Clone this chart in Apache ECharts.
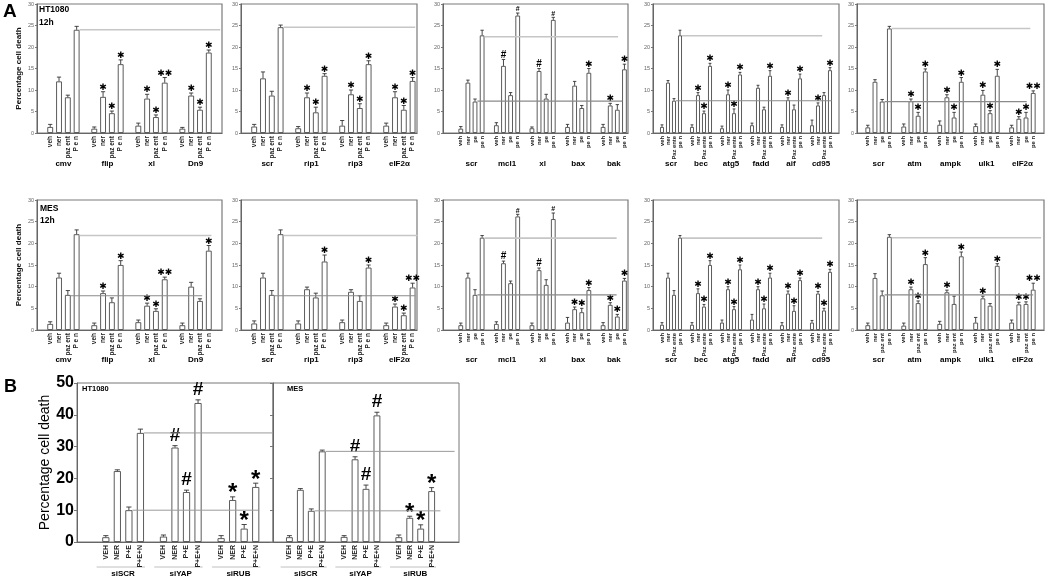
<!DOCTYPE html>
<html>
<head>
<meta charset="utf-8">
<title>Percentage cell death</title>
<script src="https://cdn.jsdelivr.net/npm/echarts@6/dist/echarts.min.js"></script>
<style>
  html, body { margin: 0; padding: 0; background: #fff; }
  #chart { width: 1052px; height: 579px; }
</style>
</head>
<body>
<div id="chart"></div>
<script>
// ---- A, row 1: HT1080 12h ----
var labA1 = ['veh', 'ner', 'paz ent', 'P e n'];
var grpA1 = ['cmv', 'flip', 'xl', 'Dn9'];
var valA1 = [[1.4, 12.0, 8.3, 24.0], [1.0, 8.4, 4.6, 16.0], [1.7, 8.0, 3.7, 11.7], [1.0, 8.7, 5.4, 18.7]];
var errA1 = [[0.6, 1.0, 0.5, 0.8], [0.4, 1.2, 0.5, 1.0], [0.6, 1.0, 0.5, 1.2], [0.3, 0.6, 0.6, 0.6]];
var sigA1 = [['', '', '', ''], ['', '*', '*', '*'], ['', '*', '*', '**'], ['', '*', '*', '*']];
var refA1 = [24.0];

var labA2 = ['veh', 'ner', 'paz ent', 'P e n'];
var grpA2 = ['scr', 'rip1', 'rip3', 'eIF2α'];
var valA2 = [[1.5, 12.7, 8.7, 24.6], [1.1, 8.3, 4.8, 13.3], [1.7, 9.0, 5.8, 16.0], [1.7, 8.3, 5.4, 12.1]];
var errA2 = [[0.5, 1.5, 1.0, 0.5], [0.4, 1.0, 1.2, 0.5], [1.2, 1.0, 1.0, 0.8], [0.6, 1.3, 1.0, 0.8]];
var sigA2 = [['', '', '', ''], ['', '*', '*', '*'], ['', '*', '*', '*'], ['', '*', '*', '*']];
var refA2 = [24.6];

var labA3 = ['veh', 'ner', 'pe', 'pe n'];
var grpA3 = ['scr', 'mcl1', 'xl', 'bax', 'bak'];
var valA3 = [[1.0, 11.7, 7.3, 22.7], [1.8, 15.6, 8.8, 27.3], [1.1, 14.4, 8.0, 26.3], [1.4, 11.0, 5.8, 14.0], [1.4, 6.4, 5.4, 14.8]];
var errA3 = [[0.5, 0.6, 0.6, 1.2], [0.6, 1.5, 0.6, 0.6], [0.3, 0.6, 1.0, 0.6], [0.6, 1.0, 0.6, 1.0], [0.6, 0.5, 1.2, 1.2]];
var sigA3 = [['', '', '', ''], ['', 'H', '', '#'], ['', 'H', '', '#'], ['', '', '', '*'], ['', '*', '', '*']];
var refA3 = [22.4, 7.4];

var labA4 = ['veh', 'ner', 'Paz ente', 'pe n'];
var grpA4 = ['scr', 'bec', 'atg5', 'fadd', 'aif', 'cd95'];
var valA4 = [[1.4, 11.7, 7.5, 22.7], [1.4, 8.8, 4.6, 15.6], [1.1, 9.0, 4.6, 13.6], [1.8, 10.5, 5.5, 13.3], [1.4, 7.7, 5.5, 12.7], [1.8, 6.4, 8.8, 14.6]];
var errA4 = [[0.5, 0.5, 0.5, 1.2], [0.5, 0.6, 0.5, 0.6], [0.5, 1.0, 1.0, 0.5], [0.5, 0.6, 0.5, 1.2], [0.5, 0.5, 1.0, 1.0], [1.2, 0.6, 0.6, 0.6]];
var sigA4 = [['', '', '', ''], ['', '*', '*', '*'], ['', '*', '*', '*'], ['', '', '', '*'], ['', '*', '', '*'], ['', '*', '', '*']];
var refA4 = [22.6, 7.5];

var labA5 = ['veh', 'ner', 'pe', 'pe n'];
var grpA5 = ['scr', 'atm', 'ampk', 'ulk1', 'eIF2α'];
var valA5 = [[1.3, 11.9, 7.3, 24.3], [1.5, 7.4, 4.0, 14.3], [1.9, 8.3, 3.6, 11.9], [1.6, 8.9, 4.6, 13.3], [1.3, 3.3, 3.6, 9.3]];
var errA5 = [[0.5, 0.5, 0.5, 0.5], [0.6, 0.5, 0.8, 0.6], [0.9, 0.6, 1.2, 1.0], [0.5, 1.0, 0.6, 1.5], [0.5, 0.5, 1.2, 0.5]];
var sigA5 = [['', '', '', ''], ['', '*', '*', '*'], ['', '*', '*', '*'], ['', '*', '*', '*'], ['', '*', '*', '**']];
var refA5 = [24.3, 7.3];

// ---- A, row 2: MES 12h ----
var labA6 = ['veh', 'ner', 'paz ent', 'P e n'];
var grpA6 = ['cmv', 'flip', 'xl', 'Dn9'];
var valA6 = [[1.4, 12.1, 8.1, 22.1], [1.1, 8.5, 6.4, 15.0], [1.8, 5.6, 4.4, 11.7], [1.1, 10.0, 6.7, 18.3]];
var errA6 = [[0.5, 1.0, 1.0, 1.0], [0.5, 0.5, 1.0, 1.0], [0.5, 0.6, 0.5, 0.5], [0.5, 1.0, 0.5, 1.2]];
var sigA6 = [['', '', '', ''], ['', '*', '', '*'], ['', '*', '*', '**'], ['', '', '', '*']];
var refA6 = [21.8, 7.9];

var labA7 = ['veh', 'ner', 'paz ent', 'P e n'];
var grpA7 = ['scr', 'rip1', 'rip3', 'eIF2α'];
var valA7 = [[1.5, 12.1, 8.1, 22.1], [1.5, 9.4, 7.5, 15.8], [1.8, 8.8, 6.7, 14.4], [1.1, 5.4, 3.4, 9.8]];
var errA7 = [[0.6, 1.0, 1.0, 1.0], [0.6, 0.5, 1.0, 1.5], [0.5, 0.5, 1.2, 0.6], [0.5, 0.6, 0.5, 1.0]];
var sigA7 = [['', '', '', ''], ['', '', '', '*'], ['', '', '', '*'], ['', '*', '*', '**']];
var refA7 = [21.8, 7.9];

var labA8 = ['veh', 'ner', 'pe', 'pe n'];
var grpA8 = ['scr', 'mcl1', 'xl', 'bax', 'bak'];
var valA8 = [[1.1, 12.1, 8.1, 21.3], [1.4, 15.4, 10.8, 26.2], [1.1, 13.8, 10.4, 25.6], [1.7, 4.8, 4.1, 9.2], [1.1, 5.8, 3.1, 11.4]];
var errA8 = [[0.5, 1.0, 1.2, 0.5], [0.5, 0.5, 0.5, 0.5], [0.5, 0.5, 1.2, 1.4], [1.2, 0.5, 0.9, 0.6], [0.6, 0.5, 0.5, 0.5]];
var sigA8 = [['', '', '', ''], ['', 'H', '', '#'], ['', 'H', '', '#'], ['', '*', '*', '*'], ['', '*', '*', '*']];
var refA8 = [21.2, 8.1];

var labA9 = ['veh', 'ner', 'Paz ente', 'pe n'];
var grpA9 = ['scr', 'bec', 'atg5', 'fadd', 'aif', 'cd95'];
var valA9 = [[1.2, 12.1, 8.1, 21.3], [1.2, 8.5, 5.4, 15.0], [1.7, 9.4, 4.8, 14.0], [2.4, 9.4, 5.0, 12.1], [1.1, 8.4, 4.4, 11.5], [1.7, 8.4, 4.5, 13.4]];
var errA9 = [[0.5, 1.0, 1.0, 0.5], [0.5, 1.0, 0.5, 1.0], [0.6, 0.6, 0.6, 1.0], [1.2, 0.6, 1.0, 1.0], [0.6, 0.6, 1.2, 0.5], [0.5, 0.5, 0.5, 0.6]];
var sigA9 = [['', '', '', ''], ['', '*', '*', '*'], ['', '*', '*', '*'], ['', '*', '*', '*'], ['', '*', '*', '*'], ['', '*', '*', '*']];
var refA9 = [21.2];

var labA10 = ['veh', 'ner', 'paz ent', 'pe n'];
var grpA10 = ['scr', 'atm', 'ampk', 'ulk1', 'eIF2α'];
var valA10 = [[1.1, 12.0, 8.0, 21.5], [1.0, 9.4, 6.2, 15.2], [1.4, 8.7, 6.0, 17.0], [1.7, 7.3, 5.6, 14.8], [1.7, 5.9, 6.0, 9.3]];
var errA10 = [[0.5, 1.0, 1.0, 0.5], [0.6, 0.5, 0.5, 1.5], [0.6, 0.5, 1.8, 1.0], [1.2, 0.5, 0.5, 0.5], [0.6, 0.5, 0.5, 1.5]];
var sigA10 = [['', '', '', ''], ['', '*', '*', '*'], ['', '*', '', '*'], ['', '*', '', '*'], ['', '*', '*', '**']];
var refA10 = [21.3, 8.1];

// ---- B: HT1080 | MES ----
var labB = ['VEH', 'NER', 'P+E', 'P+E+N'];
var grpB = ['siSCR', 'siYAP', 'siRUB'];
var valB1 = [[1.5, 22.3, 10.0, 34.3], [1.7, 29.7, 15.7, 43.7], [1.2, 13.2, 4.2, 17.3]];
var errB1 = [[0.5, 0.4, 1.0, 1.2], [0.5, 0.6, 0.6, 1.0], [0.8, 1.0, 1.3, 1.2]];
var sigB1 = [['', '', '', ''], ['', 'H', 'H', 'H'], ['', '*', '*', '*']];
var refB1 = [34.3, 10.0];
var valB2 = [[1.5, 16.4, 9.8, 28.5], [1.6, 26.0, 16.7, 39.8], [1.5, 7.6, 4.2, 16.0]];
var errB2 = [[0.5, 0.4, 0.6, 0.4], [0.4, 0.8, 1.2, 1.0], [0.7, 0.5, 1.2, 1.1]];
var sigB2 = [['', '', '', ''], ['', 'H', 'H', 'H'], ['', '*', '*', '*']];
var refB2 = [28.5, 9.8];

var FONT = '"Liberation Sans", Arial, sans-serif';

// layout of every small chart: box = [left, top, width, height]
var panels = [
  { lab: labA1, grp: grpA1, val: valA1, err: errA1, sig: sigA1, ref: refA1, box: [37, 4, 185, 129], lead: 1, trail: 1, refEnd: [20.3], gy: 164, yName: true },
  { lab: labA2, grp: grpA2, val: valA2, err: errA2, sig: sigA2, ref: refA2, box: [241, 4, 176, 129], lead: 1, trail: 0, refEnd: [19.3], gy: 164 },
  { lab: labA3, grp: grpA3, val: valA3, err: errA3, sig: sigA3, ref: refA3, box: [443, 4, 185, 129], lead: 2, trail: 0, refEnd: [24.1, 24.7], gy: 164, small: true },
  { lab: labA4, grp: grpA4, val: valA4, err: errA4, sig: sigA4, ref: refA4, box: [653, 4, 186, 129], lead: 1, trail: 1, refEnd: [27.7, 29.3], gy: 164, small: true },
  { lab: labA5, grp: grpA5, val: valA5, err: errA5, sig: sigA5, ref: refA5, box: [857, 4, 187, 129], lead: 1, trail: 1, refEnd: [23.6, 23.1], gy: 164, small: true },
  { lab: labA6, grp: grpA6, val: valA6, err: errA6, sig: sigA6, ref: refA6, box: [37, 200, 185, 130], lead: 1, trail: 1, refEnd: [19.3, 18.25], gy: 360, yName: true },
  { lab: labA7, grp: grpA7, val: valA7, err: errA7, sig: sigA7, ref: refA7, box: [241, 200, 176, 130], lead: 1, trail: 0, refEnd: [19.6, 19.3], gy: 360 },
  { lab: labA8, grp: grpA8, val: valA8, err: errA8, sig: sigA8, ref: refA8, box: [443, 200, 185, 130], lead: 2, trail: 0, refEnd: [23.9, 23.9], gy: 360, small: true },
  { lab: labA9, grp: grpA9, val: valA9, err: errA9, sig: sigA9, ref: refA9, box: [653, 200, 186, 130], lead: 1, trail: 1, refEnd: [27.7], gy: 360, small: true },
  { lab: labA10, grp: grpA10, val: valA10, err: errA10, sig: sigA10, ref: refA10, box: [857, 200, 187, 130], lead: 1, trail: 1, refEnd: [25.1, 24.0], gy: 360, small: true },
  { lab: labB, grp: grpB, val: valB1, err: errB1, sig: sigB1, ref: refB1, box: [77, 383, 196, 159], lead: 2, trail: 1, refEnd: [16.5, 15.2], gy: 574, big: true, yName: true },
  { lab: labB, grp: grpB, val: valB2, err: errB2, sig: sigB2, ref: refB2, box: [273, 383, 186, 159], lead: 1, trail: 2, refEnd: [16.1, 14.8], gy: 574, big: true, noY: true }
];

// marker glyphs: [text, font, half height, extra shift]
function markStyle(code, big) {
  if (big) {
    if (code === 'H') return ['#', 'bold 19px ' + FONT, 6.5, 0];
    return ['*', 'bold 24px ' + FONT, 4.5, 5];
  }
  if (code === 'H') return ['#', 'bold 10px ' + FONT, 3.6, 0];
  if (code === '#') return ['#', 'bold 7px ' + FONT, 2.5, 0];
  if (code === '**') return ['✱✱', 'bold 9px "DejaVu Sans"', 3.3, 0];
  return ['✱', 'bold 9px "DejaVu Sans"', 3.3, 0];
}

var grids = [], xAxes = [], yAxes = [], series = [], firsts = [];

panels.forEach(function (p, k) {
  var cats = [], names = [], bars = [], errs = [], marks = [], first = [];
  var i;
  function blank() { cats.push('c' + cats.length); names.push(''); bars.push('-'); }
  for (i = 0; i < p.lead; i++) blank();
  p.val.forEach(function (g, gi) {
    if (gi > 0) blank();
    first.push(cats.length);
    g.forEach(function (v, bi) {
      var idx = cats.length;
      cats.push('c' + idx);
      names.push(p.lab[bi]);
      bars.push(v);
      errs.push([idx, v, p.err[gi][bi]]);
      marks.push(p.sig[gi][bi]);
    });
  });
  for (i = 0; i < p.trail; i++) blank();
  firsts.push(first);

  var big = !!p.big;
  var barPct = big ? 0.62 : 0.66;

  grids.push({
    left: p.box[0], top: p.box[1], width: p.box[2], height: p.box[3],
    show: true, borderColor: big ? '#777' : '#7a7a7a', borderWidth: big ? 1 : 1.2
  });
  xAxes.push({
    type: 'category', gridIndex: k, data: cats,
    axisTick: { show: false },
    axisLine: { lineStyle: { color: '#666', width: 1 } },
    axisLabel: {
      interval: 0, rotate: 90, margin: 3,
      fontFamily: FONT, fontWeight: 'bold', color: '#222',
      fontSize: big ? 7 : (p.small ? 5.8 : 6.5),
      formatter: function (v, idx) { return names[idx]; }
    }
  });
  yAxes.push({
    type: 'value', gridIndex: k, min: 0, max: big ? 50 : 30, interval: big ? 10 : 5,
    splitLine: { show: false },
    axisLine: { show: true, lineStyle: { color: '#666' } },
    axisTick: { show: true, length: big ? 3 : 2, lineStyle: { color: '#777' } },
    axisLabel: p.noY ? { show: false } : (big
      ? { fontFamily: FONT, fontWeight: 'bold', fontSize: 16, color: '#000', margin: 3 }
      : { fontFamily: FONT, fontSize: 5.5, color: '#666', margin: 3 }),
    name: p.yName ? 'Percentage cell death' : '',
    nameLocation: 'middle',
    nameGap: big ? 20 : 14,
    nameTextStyle: big
      ? { fontFamily: FONT, fontSize: 14, color: '#000' }
      : { fontFamily: FONT, fontSize: 8, fontWeight: 'bold', color: '#111' }
  });

  series.push({
    type: 'bar', xAxisIndex: k, yAxisIndex: k, data: bars,
    barWidth: (barPct * 100) + '%', silent: true, z: 2,
    itemStyle: { color: '#fff', borderColor: '#4a4a4a', borderWidth: 0.9 }
  });

  series.push({
    type: 'custom', xAxisIndex: k, yAxisIndex: k, data: errs, silent: true, z: 4,
    renderItem: function (params, api) {
      var idx = api.value(0), v = api.value(1), e = api.value(2);
      var base = api.coord([idx, v]);
      var top = api.coord([idx, v + e]);
      var band = api.size([1, 0])[0];
      var half = band * barPct * 0.36;
      var kids = [
        { type: 'line', shape: { x1: base[0], y1: base[1], x2: top[0], y2: top[1] }, style: { stroke: '#333', lineWidth: 0.9 } },
        { type: 'line', shape: { x1: top[0] - half, y1: top[1], x2: top[0] + half, y2: top[1] }, style: { stroke: '#333', lineWidth: 0.9 } }
      ];
      var code = marks[params.dataIndex];
      if (code) {
        var m = markStyle(code, big);
        var gap = big ? 3.5 : 1;
        kids.push({
          type: 'text',
          style: {
            text: m[0], x: top[0], y: top[1] - gap - m[2] + m[3],
            align: 'center', verticalAlign: 'middle', font: m[1], fill: '#000'
          }
        });
      }
      return { type: 'group', children: kids };
    }
  });

  // control-level guide lines, from the first group's bars to the right
  var refData = p.ref.map(function (v, j) {
    return [first[0] + (j === 0 ? 3 : 2), v, p.refEnd[j]];
  });
  series.push({
    type: 'custom', xAxisIndex: k, yAxisIndex: k, data: refData, silent: true, z: 5,
    renderItem: function (params, api) {
      var s = api.value(0), v = api.value(1), e = api.value(2);
      var a = api.coord([s, v]);
      var band = api.size([1, 0])[0];
      var x0 = a[0] + band * barPct / 2;
      var x1 = a[0] + (e - s) * band;
      var upper = params.dataIndex === 0;
      return {
        type: 'line',
        shape: { x1: x0, y1: a[1], x2: x1, y2: a[1] },
        style: big
          ? { stroke: '#9a9a9a', lineWidth: 1 }
          : { stroke: upper ? '#c6c6c6' : '#8a8a8a', lineWidth: upper ? 1.6 : 1.2 }
      };
    }
  });
});

var chart = echarts.init(document.getElementById('chart'));
chart.setOption({
  animation: false,
  backgroundColor: '#fff',
  grid: grids,
  xAxis: xAxes,
  yAxis: yAxes,
  series: series
});

// texts: panel letters, cell line tags, group names under each chart
var g = [];
function txt(s, x, y, font, align) {
  g.push({ type: 'text', x: x, y: y, silent: true,
    style: { text: s, font: font, fill: '#000', align: align || 'left', verticalAlign: 'middle' } });
}
txt('A', 3, 12, 'bold 19px ' + FONT);
txt('B', 4, 387, 'bold 18px ' + FONT);
txt('HT1080', 39, 10, 'bold 8.5px ' + FONT);
txt('12h', 39, 23, 'bold 8.5px ' + FONT);
txt('MES', 40, 209, 'bold 8.5px ' + FONT);
txt('12h', 40, 221, 'bold 8.5px ' + FONT);
txt('HT1080', 82, 389, 'bold 7.5px ' + FONT);
txt('MES', 287, 389, 'bold 7.5px ' + FONT);

panels.forEach(function (p, k) {
  firsts[k].forEach(function (f, gi) {
    var xa = chart.convertToPixel({ xAxisIndex: k }, f);
    var xb = chart.convertToPixel({ xAxisIndex: k }, f + 3);
    var band = (xb - xa) / 3;
    if (p.big) {
      g.push({ type: 'line', silent: true,
        shape: { x1: xa - band * 0.8, y1: p.gy - 7, x2: xb + band * 0.4, y2: p.gy - 7 },
        style: { stroke: '#c0c0c0', lineWidth: 1 } });
    }
    txt(p.grp[gi], (xa + xb) / 2, p.gy, 'bold 8px ' + FONT, 'center');
  });
});

chart.setOption({ graphic: { elements: g } });
</script>
</body>
</html>
